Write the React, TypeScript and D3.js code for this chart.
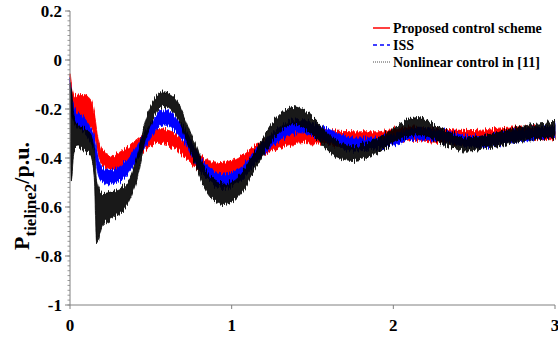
import React from 'react';
import * as d3 from 'd3';

const redTime = [0, 0.01, 0.03, 0.08, 0.13, 0.15, 0.17, 0.2, 0.27, 0.35, 0.45, 0.55, 0.65, 0.76, 0.9, 1.0, 1.17, 1.3, 1.45, 1.6, 1.75, 1.9, 2.1, 2.3, 2.5, 2.75, 3.0];
const redMid = [-0.07, -0.15, -0.2, -0.2, -0.22, -0.26, -0.34, -0.4, -0.42, -0.39, -0.34, -0.31, -0.33, -0.4, -0.45, -0.44, -0.37, -0.33, -0.31, -0.315, -0.32, -0.32, -0.3, -0.31, -0.31, -0.295, -0.305];
const redSpread = [0.01, 0.04, 0.055, 0.06, 0.055, 0.045, 0.035, 0.03, 0.03, 0.03, 0.03, 0.03, 0.03, 0.03, 0.03, 0.03, 0.03, 0.027, 0.027, 0.027, 0.027, 0.027, 0.027, 0.027, 0.022, 0.022, 0.022];

const blueTime = [0, 0.01, 0.03, 0.08, 0.13, 0.15, 0.17, 0.2, 0.25, 0.35, 0.45, 0.58, 0.7, 0.8, 0.95, 1.05, 1.17, 1.3, 1.42, 1.6, 1.75, 1.9, 2.15, 2.3, 2.5, 2.75, 3.0];
const blueMid = [-0.09, -0.18, -0.23, -0.26, -0.31, -0.34, -0.42, -0.47, -0.48, -0.44, -0.34, -0.235, -0.3, -0.42, -0.495, -0.47, -0.38, -0.3, -0.27, -0.31, -0.345, -0.34, -0.3, -0.31, -0.335, -0.31, -0.29];
const blueSpread = [0.01, 0.035, 0.03, 0.03, 0.03, 0.03, 0.035, 0.03, 0.03, 0.03, 0.03, 0.03, 0.03, 0.027, 0.03, 0.027, 0.027, 0.027, 0.027, 0.027, 0.027, 0.022, 0.022, 0.022, 0.022, 0.022, 0.022];

const blackTime = [0, 0.008, 0.025, 0.05, 0.08, 0.13, 0.15, 0.165, 0.2, 0.27, 0.35, 0.41, 0.475, 0.58, 0.66, 0.76, 0.85, 0.95, 1.05, 1.17, 1.28, 1.38, 1.5, 1.62, 1.75, 1.9, 2.05, 2.15, 2.3, 2.45, 2.6, 2.8, 3.0];
const blackMid = [-0.12, -0.3, -0.3, -0.31, -0.32, -0.35, -0.42, -0.62, -0.61, -0.59, -0.55, -0.45, -0.27, -0.16, -0.2, -0.36, -0.5, -0.548, -0.51, -0.38, -0.27, -0.225, -0.27, -0.35, -0.38, -0.35, -0.29, -0.27, -0.31, -0.345, -0.33, -0.3, -0.285];
const blackSpread = [0.02, 0.19, 0.065, 0.045, 0.045, 0.045, 0.055, 0.13, 0.065, 0.055, 0.045, 0.045, 0.04, 0.03, 0.035, 0.04, 0.04, 0.042, 0.04, 0.035, 0.035, 0.035, 0.035, 0.035, 0.03, 0.03, 0.03, 0.035, 0.03, 0.027, 0.027, 0.03, 0.03];

const xTicks = [0, 1, 2, 3];
const yTicks = [0.2, 0, -0.2, -0.4, -0.6, -0.8, -1];
const legendLabels = ['Proposed control scheme', 'ISS', 'Nonlinear control in [11]'];

const W = 558;
const H = 337;
const FONT = '"Liberation Serif", "Times New Roman", serif';

type Series = { time: number[]; mid: number[]; spread: number[]; color: string; opacity: number; filter: string };

export default function App() {
  const x = d3.scaleLinear().domain([0, 3]).range([70, 555]);
  const y = d3.scaleLinear().domain([-1, 0.2]).range([305, 11]);

  const series: Series[] = [
    { time: redTime, mid: redMid, spread: redSpread, color: '#ff0000', opacity: 1, filter: 'url(#noiseA)' },
    { time: blueTime, mid: blueMid, spread: blueSpread, color: '#0000ff', opacity: 1, filter: 'url(#noiseB)' },
    { time: blackTime, mid: blackMid, spread: blackSpread, color: '#000000', opacity: 0.9, filter: 'url(#noiseC)' },
  ];

  const bandPath = (s: Series) => {
    const idx = s.time.map((_, i) => i);
    return d3
      .area<number>()
      .x((i) => x(s.time[i]))
      .y0((i) => y(s.mid[i] - s.spread[i]))
      .y1((i) => y(s.mid[i] + s.spread[i]))
      .curve(d3.curveMonotoneX)(idx) as string;
  };

  const minorTicks = d3.range(0, 61).map((k) => -1 + k * 0.02);

  const legendColors = ['#ff0000', '#0000ff', '#000000'];
  const legendDash = ['none', '4,3', '1,1'];

  const fmt = (v: number) => (v === 0 ? '0' : v === -1 ? '-1' : String(v));

  return (
    <svg width={W} height={H} style={{ position: 'absolute', left: 0, top: 0, background: '#fff' }} fontFamily={FONT}>
      <defs>
        {['noiseA', 'noiseB', 'noiseC'].map((id, k) => (
          <filter key={id} id={id} x="-2%" y="-20%" width="104%" height="140%">
            <feTurbulence type="fractalNoise" baseFrequency="0.9 0.03" numOctaves={1} seed={k + 3} result="turb" />
            <feColorMatrix
              in="turb"
              type="matrix"
              values="0 0 0 0 0.5  1 0 0 0 0  0 0 0 0 0  0 0 0 0 1"
              result="disp"
            />
            <feDisplacementMap in="SourceGraphic" in2="disp" scale={12} xChannelSelector="R" yChannelSelector="G" />
          </filter>
        ))}
      </defs>

      {series.map((s, k) => (
        <path key={k} d={bandPath(s)} fill={s.color} fillOpacity={s.opacity} stroke={s.color} strokeWidth={0.8} filter={s.filter} />
      ))}

      {/* y axis */}
      <line x1={70} x2={70} y1={y(0.2)} y2={y(-1)} stroke="#808080" strokeWidth={1} />
      {minorTicks.map((v, i) => (
        <line key={'m' + i} x1={67.5} x2={70} y1={y(v)} y2={y(v)} stroke="#808080" strokeWidth={0.8} />
      ))}
      {yTicks.map((v) => (
        <g key={'y' + v}>
          <line x1={65} x2={70} y1={y(v)} y2={y(v)} stroke="#808080" strokeWidth={1} />
          <text x={62} y={y(v)} dy="0.35em" textAnchor="end" fontSize={17} fontWeight="bold">
            {fmt(v)}
          </text>
        </g>
      ))}

      {/* x axis */}
      <line x1={70} x2={555} y1={305} y2={305} stroke="#808080" strokeWidth={1} />
      {xTicks.map((t) => (
        <g key={'x' + t}>
          <line x1={x(t)} x2={x(t)} y1={305} y2={309} stroke="#808080" strokeWidth={1} />
          <text x={x(t)} y={331} textAnchor="middle" fontSize={17} fontWeight="bold">
            {t}
          </text>
        </g>
      ))}

      {/* y title */}
      <text transform="translate(29,196) rotate(-90)" textAnchor="middle" fontSize={22} fontWeight="bold">
        P<tspan fontSize={17} dy={7}>tieline2</tspan>
        <tspan dy={-7}>/p.u.</tspan>
      </text>

      {/* legend */}
      {legendLabels.map((lab, i) => (
        <g key={lab} transform={`translate(0,${28 + i * 17})`}>
          <line x1={373} x2={390} y1={0} y2={0} stroke={legendColors[i]} strokeWidth={i === 2 ? 1 : 1.5} strokeDasharray={legendDash[i]} opacity={i === 2 ? 0.7 : 1} />
          <text x={393} y={0} dy="0.35em" fontSize={14} fontWeight="bold">
            {lab}
          </text>
        </g>
      ))}
    </svg>
  );
}
